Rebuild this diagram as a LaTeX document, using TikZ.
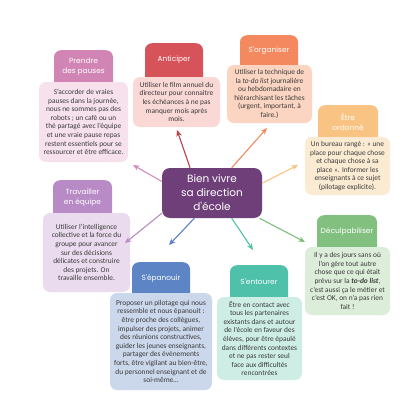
\documentclass[tikz,border=0pt]{standalone}
\usepackage{fontspec}
\setmainfont{Carlito}
\newfontfamily\titlefont{Poppins}
\usetikzlibrary{arrows.meta,backgrounds}
\definecolor{cPh}{HTML}{D185B5}\definecolor{cPb}{HTML}{F6E1EC}\definecolor{cPa}{HTML}{D38CC0}
\definecolor{cAh}{HTML}{D6535A}\definecolor{cAb}{HTML}{F9D8D5}\definecolor{cAa}{HTML}{B94045}
\definecolor{cOh}{HTML}{F4895F}\definecolor{cOb}{HTML}{FBD4C2}\definecolor{cOa}{HTML}{F08A5D}
\definecolor{cEh}{HTML}{F9C384}\definecolor{cEb}{HTML}{FBEBD3}\definecolor{cEa}{HTML}{F9C384}
\definecolor{cDh}{HTML}{82C07F}\definecolor{cDb}{HTML}{DCEDD9}\definecolor{cDa}{HTML}{7DBE7B}
\definecolor{cSh}{HTML}{4FC0AA}\definecolor{cSb}{HTML}{CDEDE5}\definecolor{cSa}{HTML}{4FC0AA}
\definecolor{cBh}{HTML}{5D85C6}\definecolor{cBb}{HTML}{CBD7EB}\definecolor{cBa}{HTML}{5A7FC8}
\definecolor{cTh}{HTML}{B98BC6}\definecolor{cTb}{HTML}{EADCEE}\definecolor{cTa}{HTML}{B98BC6}
\definecolor{cC}{HTML}{6F3F7A}
\definecolor{txt}{HTML}{3A3A3A}
\begin{document}
\begin{tikzpicture}[x=1pt,y=-1pt,
  hdrbg/.style={rounded corners=7pt, inner sep=0pt, anchor=north},
  hdrtxt/.style={inner sep=0pt, align=center, text=white, font=\titlefont\fontsize{7.4}{10}\selectfont},
  bodybox/.style={rounded corners=7pt, inner sep=0pt, align=center, text=txt, font=\fontsize{7.4}{8.6}\selectfont},
  conn/.style={line width=1.1pt, -{Stealth[length=6.5pt,width=5.5pt]}}]
\useasboundingbox (0,0) rectangle (416,415);
\fill[white] (0,0) rectangle (416,415);

% header backgrounds
\node[hdrbg, fill=cPh, minimum width=59pt, minimum height=42pt] (h1) at (83.5,50) {};
\node[hdrbg, fill=cAh, minimum width=58pt, minimum height=44pt] (h2) at (174,43) {};
\node[hdrbg, fill=cOh, minimum width=58pt, minimum height=40pt] (h3) at (269,35) {};
\node[hdrbg, fill=cEh, minimum width=60pt, minimum height=42pt] (h4) at (348,105) {};
\node[hdrbg, fill=cDh, minimum width=60pt, minimum height=42pt] (h5) at (347,215) {};
\node[hdrbg, fill=cSh, minimum width=58pt, minimum height=42pt] (h6) at (259,265) {};
\node[hdrbg, fill=cBh, minimum width=58pt, minimum height=41pt] (h7) at (161,262) {};
\node[hdrbg, fill=cTh, minimum width=59pt, minimum height=43pt] (h8) at (82.5,180) {};

% header titles
\node[hdrtxt] (h1t) at (83.5,67) {Prendre\\des pauses};
\node[hdrtxt] (h2t) at (174,60) {Anticiper};
\node[hdrtxt] (h3t) at (269,51) {S'organiser};
\node[hdrtxt] (h4t) at (348,122) {Être\\ordonné};
\node[hdrtxt] (h5t) at (347,232) {Déculpabiliser};
\node[hdrtxt] (h6t) at (259,282) {S'entourer};
\node[hdrtxt] (h7t) at (161,279) {S'épanouir};
\node[hdrtxt] (h8t) at (82.5,198) {Travailler\\en équipe};

% bodies
\node[bodybox, fill=cPb, minimum width=89pt, minimum height=80pt] (b1) at (83.5,122) {S'accorder de vraies\\pauses dans la journée,\\nous ne sommes pas des\\robots ; un café ou un\\thé partagé avec l'équipe\\et une vraie pause repas\\restent essentiels pour se\\ressourcer et être efficace.};
\node[bodybox, fill=cAb, minimum width=87pt, minimum height=50pt] (b2) at (176.5,102) {Utiliser le film annuel du\\directeur pour connaitre\\les échéances à ne pas\\manquer mois après\\mois.};
\node[bodybox, fill=cOb, minimum width=85pt, minimum height=58pt] (b3) at (269.5,94) {Utiliser la technique de\\la \textit{to-do list} journalière\\ou hebdomadaire en\\hiérarchisant les tâches\\(urgent, important, à\\faire.)};
\node[bodybox, fill=cEb, minimum width=85pt, minimum height=58pt] (b4) at (347.5,166) {Un bureau rangé : « une\\place pour chaque chose\\et chaque chose à sa\\place ». Informer les\\enseignants à ce sujet\\(pilotage explicite).};
\node[bodybox, fill=cDb, minimum width=85pt, minimum height=68pt] (b5) at (347.5,281) {Il y a des jours sans où\\l'on gère tout autre\\chose que ce qui était\\prévu sur la \textbf{\textit{to-do list}},\\c'est aussi ça le métier et\\c'est OK, on n'a pas rien\\fait !};
\node[bodybox, fill=cSb, minimum width=85pt, minimum height=83pt] (b6) at (259.5,338.5) {Être en contact avec\\tous les partenaires\\existants dans et autour\\de l'école en faveur des\\élèves, pour être épaulé\\dans différents contextes\\et ne pas rester seul\\face aux difficultés\\rencontrées};
\node[bodybox, fill=cBb, minimum width=102pt, minimum height=97pt] (b7) at (161,341.5) {Proposer un pilotage qui nous\\ressemble et nous épanouit :\\être proche des collègues,\\impulser des projets, animer\\des réunions constructives,\\guider les jeunes enseignants,\\partager des évènements\\forts, être vigilant au bien-être,\\du personnel enseignant et de\\soi-même…};
\node[bodybox, fill=cTb, minimum width=87pt, minimum height=79pt] (b8) at (86.5,252.5) {Utiliser l'intelligence\\collective et la force du\\groupe pour avancer\\sur des décisions\\délicates et construire\\des projets. On\\travaille ensemble.};

% centre
\node[rounded corners=8pt, fill=cC, minimum width=100pt, minimum height=50pt, inner sep=0pt, align=center, text=white, font=\titlefont\fontsize{10.5}{14}\selectfont] (c) at (212,193) {Bien vivre\\sa direction\\d'école};

% arrow tips
\coordinate (t1) at (133,165);
\coordinate (t2) at (177,130);
\coordinate (t3) at (267,128);
\coordinate (t4) at (298,165);
\coordinate (t5) at (305,242);
\coordinate (t6) at (253,250);
\coordinate (t7) at (169,245);
\coordinate (t8) at (125,243);

\draw[conn, cPa] (c.167) -- (t1);
\draw[conn, cAa] (c.131) -- (t2);
\draw[conn, cOa] (c.52) -- (t3);
\draw[conn, cEa] (c.11) -- (t4);
\draw[conn, cDa] (c.-28) -- (t5);
\draw[conn, cSa] (c.-52) -- (t6);
\draw[conn, cBa] (c.-125) -- (t7);
\draw[conn, cTa] (c.-158) -- (t8);
\end{tikzpicture}
\end{document}
